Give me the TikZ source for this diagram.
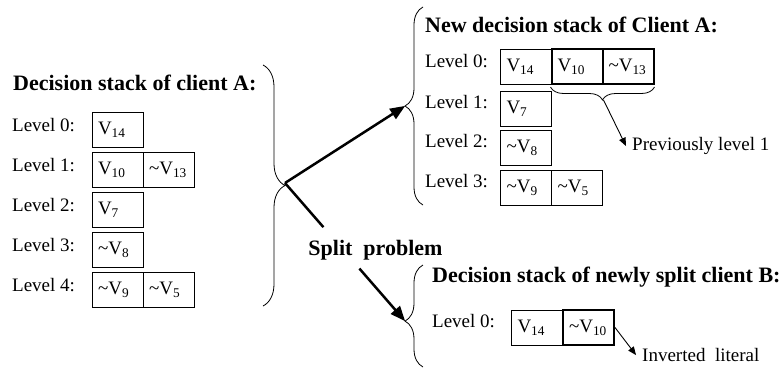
\documentclass[tikz,border=0pt]{standalone}
\usepackage{fontspec}
\setmainfont{Liberation Serif}
\usetikzlibrary{arrows,calc,decorations.pathreplacing}

\newcommand{\lit}[1]{V\textsubscript{#1}}
\newcommand{\nlit}[1]{\textasciitilde V\textsubscript{#1}}

\begin{document}
\begin{tikzpicture}
[>=triangle 45,x=1pt,y=-1pt,
 lvlbox/.style={draw,line width=0.8pt,minimum height=35pt,text width=39pt,inner xsep=6pt,inner ysep=0pt,align=left,font=\fontsize{19}{21}\selectfont},
 oldbox/.style={lvlbox,line width=2pt},
 lvl/.style={anchor=west,inner sep=0pt,font=\fontsize{19}{22}\selectfont},
 heading/.style={anchor=west,inner sep=0pt,font=\fontsize{22}{26}\selectfont\bfseries},
 remark/.style={anchor=west,inner xsep=6pt,inner ysep=0pt,font=\fontsize{19}{22}\selectfont},
 bigbrace/.style={decorate,decoration={brace,amplitude=#1},line width=0.8pt},
 splitline/.style={line width=2.5pt},
 splitarrow/.style={splitline,->},
 notearrow/.style={line width=0.9pt,->}]

	\useasboundingbox (0,0) rectangle (782,373);
	%\draw[gray,step=20] (0,0) grid (782,373);

	% decision stack of client A
	\node[heading] (titleA) at (13,82.5) {Decision stack of client A:};
	\node[lvl] (lvlA0) at (12,125) {Level 0:};
	\node[lvl] (lvlA1) at (12,165) {Level 1:};
	\node[lvl] (lvlA2) at (12,205) {Level 2:};
	\node[lvl] (lvlA3) at (12,245) {Level 3:};
	\node[lvl] (lvlA4) at (12,285) {Level 4:};

	\node[lvlbox] (a0) at (117.5,129.5) {\lit{14}};
	\node[lvlbox] (a1) at (117.5,170) {\lit{10}};
	\node[lvlbox] (a1b) at (168.5,170) {\nlit{13}};
	\node[lvlbox] (a2) at (117.5,210) {\lit{7}};
	\node[lvlbox] (a3) at (117.5,250) {\nlit{8}};
	\node[lvlbox] (a4) at (117.5,290) {\nlit{9}};
	\node[lvlbox] (a4b) at (168.5,290) {\nlit{5}};

	\draw[bigbrace=22] (263,65) -- (263,306);

	% new decision stack of client A
	\node[heading] (titleN) at (425,25) {New decision stack of Client A:};
	\node[lvl] (lvlN0) at (425,61) {Level 0:};
	\node[lvl] (lvlN1) at (425,102) {Level 1:};
	\node[lvl] (lvlN2) at (425,141.5) {Level 2:};
	\node[lvl] (lvlN3) at (425,181) {Level 3:};

	\node[lvlbox] (n0) at (526,66.5) {\lit{14}};
	\node[oldbox] (n0b) at (577,66.5) {\lit{10}};
	\node[oldbox] (n0c) at (628,66.5) {\nlit{13}};
	\node[lvlbox] (n1) at (526,108.5) {\lit{7}};
	\node[lvlbox] (n2) at (526,148) {\nlit{8}};
	\node[lvlbox] (n3) at (526,187.5) {\nlit{9}};
	\node[lvlbox] (n3b) at (577,187.5) {\nlit{5}};

	\draw[bigbrace=18] (423,205) -- (423,7);
	\draw[bigbrace=13] ([yshift=-2pt]n0c.south east) -- ([yshift=-2pt]n0b.south west);
	\coordinate (prevtip) at ([yshift=-15pt]n0b.south east);
	\node[remark] (prev) at (626,146) {Previously level 1};
	\draw[notearrow] (prevtip) -- (prev.west);

	% decision stack of client B
	\node[heading] (titleB) at (432,277) {Decision stack of newly split client B:};
	\node[lvl] (lvlB0) at (432,321.5) {Level 0:};

	\node[lvlbox] (b0) at (537,327.5) {\lit{14}};
	\node[oldbox] (b0b) at (588.5,327.5) {\nlit{10}};

	\draw[bigbrace=18,decoration={aspect=0.45}] (423,367) -- (423,265);
	\node[remark] (inv) at (636,355) {Inverted\ \ literal};
	\draw[notearrow] (b0b.east) -- (inv.west);

	% split
	\coordinate (tipA) at (285,183);
	\coordinate (tipN) at (405,106);
	\coordinate (tipB) at (405,321);
	\draw[splitarrow] (tipA) -- (tipN);
	\node[heading,anchor=center] (split) at (375.5,250) {Split\ \ problem};
	\draw[splitline] (tipA) -- ($(tipA)!0.32!(tipB)$);
	\draw[splitarrow] ($(tipA)!0.62!(tipB)$) -- (tipB);
\end{tikzpicture}
\end{document}
